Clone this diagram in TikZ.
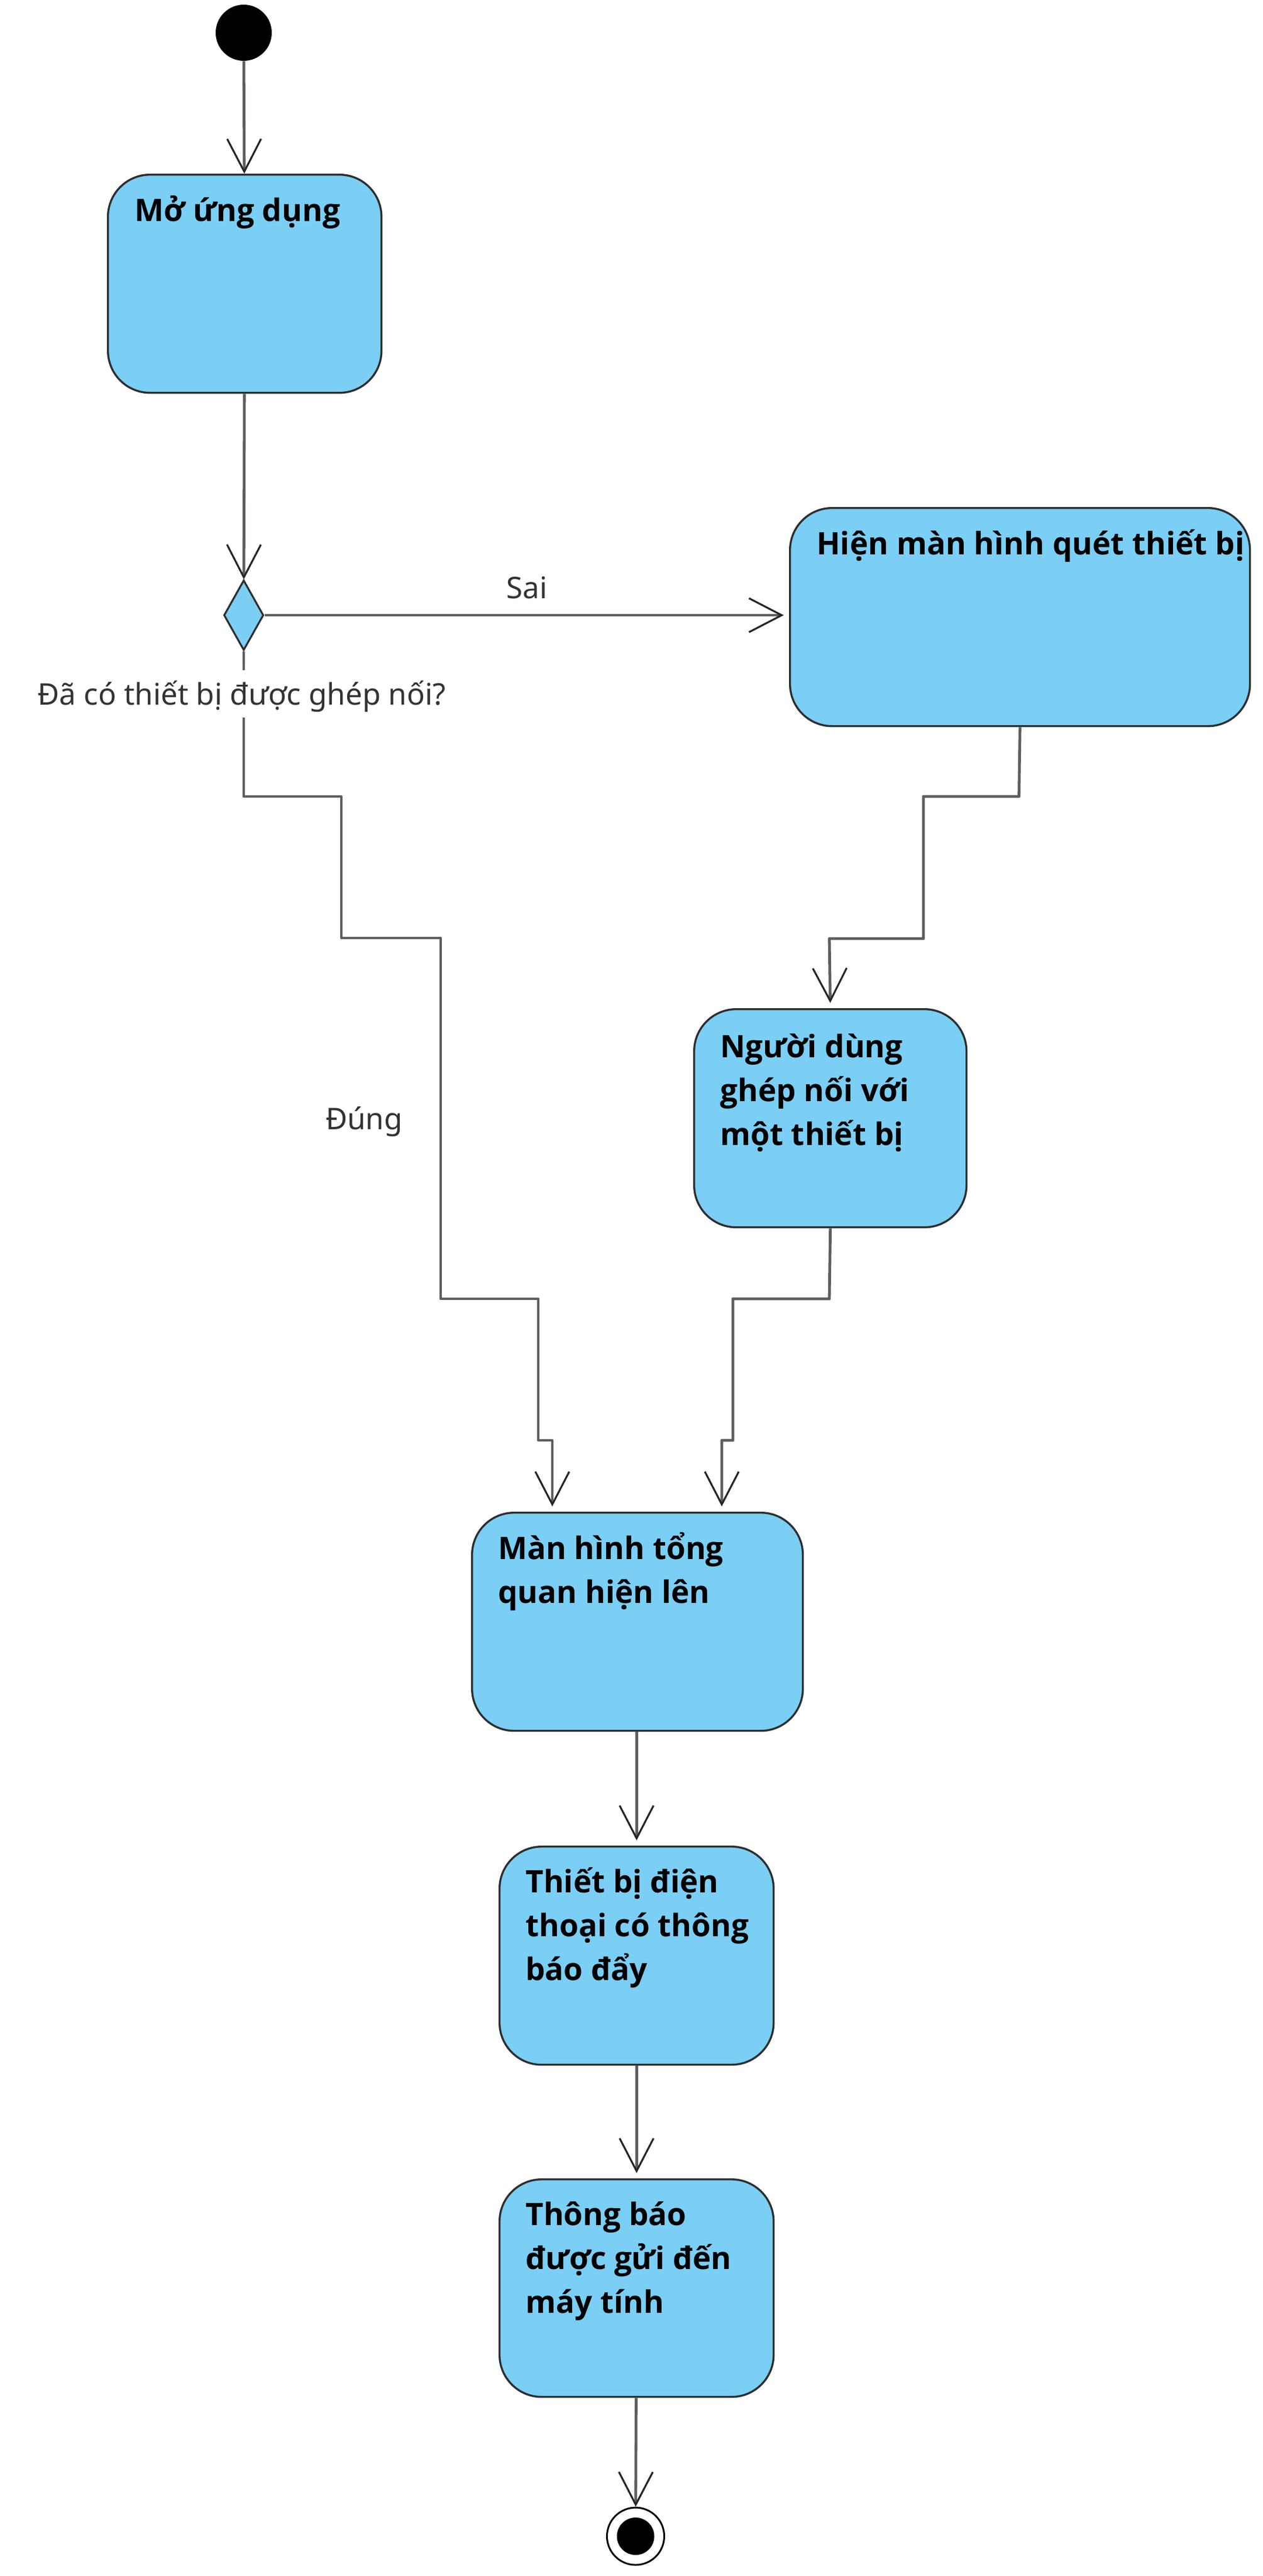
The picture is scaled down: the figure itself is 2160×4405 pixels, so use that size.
\documentclass[tikz,border=0pt]{standalone}
\usepackage{fontspec}
\setmainfont{Noto Sans}
\IfFontExistsTF{Noto Sans Bold}
  {\newfontfamily\boxfont{Noto Sans Bold}}
  {\IfFontExistsTF{Open Sans Bold}
     {\newfontfamily\boxfont{Open Sans Bold}}
     {\newfontfamily\boxfont{Noto Sans}[FakeBold=2.5]}}
\usetikzlibrary{arrows.meta,shapes.geometric,calc}
\definecolor{actfill}{HTML}{7BCEF4}
\definecolor{linegray}{HTML}{5E5E5E}
\definecolor{edgedark}{HTML}{2E2E2E}
\begin{document}
\begin{tikzpicture}[x=0.5pt,y=-0.5pt,
  actbox/.style={rectangle, draw=edgedark, line width=1.7pt, fill=actfill, rounded corners=36pt, inner sep=0pt, anchor=north west, minimum height=186.5pt},
  btext/.style={font=\boxfont\fontsize{26.5pt}{37.5pt}\selectfont, text=black, inner sep=0pt, anchor=base west},
  lbl/.style={font=\fontsize{25.5pt}{30pt}\selectfont, text=black!80, inner sep=0pt, anchor=base},
  flow/.style={draw=linegray, line width=2.4pt, line join=round, -{Straight Barb[length=28pt,width=29pt,line width=1.6pt,color=black!85]}},
  tobox/.style={shorten >=4.5pt}
]
\fill[white] (0,0) rectangle (2160,4405);
\useasboundingbox (0,0) rectangle (2160,4405);

% nodes
\node[circle, fill=black, minimum size=48pt, inner sep=0pt] (start) at (417,56) {};
\node[actbox, minimum width=234pt] (b1) at (183,297) {};
\node[diamond, draw=edgedark, line width=1.6pt, fill=actfill, minimum width=34pt, minimum height=60pt, inner sep=0pt] (dec) at (417,1052) {};
\node[actbox, minimum width=393.5pt] (b2) at (1350,867) {};
\node[actbox, minimum width=233pt] (bP) at (1186,1724) {};
\node[actbox, minimum width=283pt] (b3) at (806,2585) {};
\node[actbox, minimum width=234.5pt] (b4) at (853,3156) {};
\node[actbox, minimum width=234.5pt, minimum height=186pt] (b5) at (853,3725) {};
\node[circle, draw=black, line width=1.5pt, fill=white, minimum size=49pt, inner sep=0pt] (endo) at (1087.5,4337) {};
\node[circle, fill=black, minimum size=32pt, inner sep=0pt] (endi) at (endo) {};

% box texts
\node[btext] (t1) at ($(b1.north west)+(47,81)$) {Mở ứng dụng};
\node[btext] (t2) at ($(b2.north west)+(47,81)$) {Hiện màn hình quét thiết bị};
\node[btext] (tP) at ($(bP.north west)+(46,84)$) {\vtop{\hbox{Người dùng}\hbox{ghép nối với}\hbox{một thiết bị}}};
\node[btext] (t3) at ($(b3.north west)+(46,81)$) {\vtop{\hbox{Màn hình tổng}\hbox{quan hiện lên}}};
\node[btext] (t4) at ($(b4.north west)+(46,80)$) {\vtop{\hbox{Thiết bị điện}\hbox{thoại có thông}\hbox{báo đẩy}}};
\node[btext] (t5) at ($(b5.north west)+(46,80)$) {\vtop{\hbox{Thông báo}\hbox{được gửi đến}\hbox{máy tính}}};

% connectors
\draw[flow] (start) -- (b1);
\draw[flow] (b1) -- (dec);
\draw[flow, tobox] (dec.east) -- node[lbl, yshift=14.5pt] (sai) {Sai} (dec.east -| b2.west);
\draw[flow, tobox] (dec.south) -- (417,1362) -- (584,1362) -- (584,1604) -- (754,1604) -- (754,2221) -- (921,2221) -- (921,2463) -- (945,2463) -- (945,0 |- b3.north);
\draw[flow, tobox] (b2.south) -- (1743.5,1362) -- (1580,1362) -- (1580,1605) -- (1419,1605) -- (bP.north);
\draw[flow, tobox] (bP.south) -- (1419,2221) -- (1254,2221) -- (1254,2463) -- (1235,2463) -- (1235,0 |- b3.north);
\draw[flow, tobox] (b4.north |- b3.south) -- (b4.north);
\draw[flow, tobox] (b4) -- (b5);
\draw[flow] (b5) -- (endo);

% labels
\node[lbl, fill=white, text height=29.5pt, text depth=11pt] (qlbl) at (413.5,1205) {Đã có thiết bị được ghép nối?};
\node[lbl] (dung) at (623,1931) {Đúng};
\end{tikzpicture}
\end{document}
